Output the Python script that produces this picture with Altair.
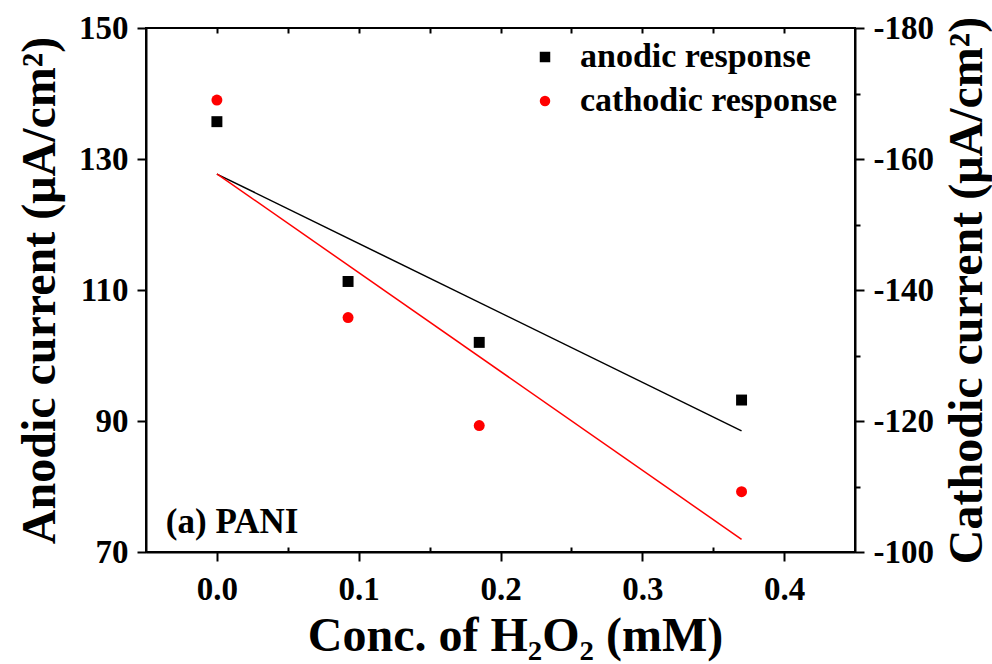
import altair as alt
import pandas as pd

# ---- data ----
conc = [0.0, 0.0925, 0.185, 0.37]
anodic = [135.7, 111.3, 102.0, 93.2]
cathodic = [-169.0, -135.8, -119.3, -109.2]
series = ["anodic response", "cathodic response"]
colors = ["#000000", "#ff0000"]
shapes = ["square", "circle"]

x_ticks = [0.0, 0.1, 0.2, 0.3, 0.4]
x_minor = [0.05, 0.15, 0.25, 0.35]
x_top = [0.0, 0.05, 0.1, 0.15, 0.2, 0.25, 0.3, 0.35, 0.4]
left_ticks = [70, 90, 110, 130, 150]
right_ticks = [-180, -160, -140, -120, -100]
right_minor = [-170, -150, -130, -110]

label_x = [-0.036]
label_y = [72.9]
label_text = ["(a) PANI"]

FONT = "Liberation Serif"

an_df = pd.DataFrame({"conc": conc, "current": anodic, "series": series[0]})
ca_df = pd.DataFrame({"conc": conc, "current": cathodic, "series": series[1]})
lab_df = pd.DataFrame({"conc": label_x, "current": label_y, "text": label_text})

xs = alt.Scale(domain=[-0.05, 0.45], nice=False, zero=False)
ys_left = alt.Scale(domain=[70, 150], nice=False, zero=False)
ys_right = alt.Scale(domain=[-180, -100], nice=False, zero=False, reverse=True)

color = alt.Color("series:N", scale=alt.Scale(domain=series, range=colors),
                  legend=alt.Legend(title=None, orient="none", legendX=382, legendY=12,
                                    symbolSize=110, labelOffset=18, rowPadding=10,
                                    labelFont=FONT, labelFontSize=34, labelFontWeight="bold",
                                    labelColor="black", labelLimit=0, padding=0,
                                    symbolStrokeWidth=0))
shape = alt.Shape("series:N", scale=alt.Scale(domain=series, range=shapes), legend=None)

main_x_axis = alt.Axis(values=x_ticks, format=".1f", title="Conc. of H₂O₂ (mM)",
                       tickSize=9, labelPadding=12, titlePadding=6, titleX=369, grid=False)
top_x_axis = alt.Axis(orient="top", values=x_top, tickSize=5, offset=-5, labels=False,
                      domain=False, title=None, grid=False)
minor_x_axis = alt.Axis(orient="bottom", values=x_minor, tickSize=5, offset=-5, labels=False,
                        domain=False, title=None, grid=False)

left_axis = alt.Axis(orient="left", values=left_ticks, title="Anodic current (μA/cm²)",
                     tickSize=9, labelPadding=9, titlePadding=14, grid=False)
right_axis = alt.Axis(orient="right", values=right_ticks, title="Cathodic current (μA/cm²)",
                      tickSize=9, labelPadding=9, titlePadding=10, titleAngle=270,
                      titleBaseline="top", grid=False,
                      labelExpr="replace(datum.label, '\u2212', '-')")
right_minor_axis = alt.Axis(orient="right", values=right_minor, tickSize=5, labels=False,
                            domain=False, title=None, grid=False)

an_line = alt.Chart(an_df).transform_regression("conc", "current", extent=[0, 0.37]).mark_line(
    color="black", strokeWidth=1.5).encode(
    x=alt.X("conc:Q", scale=xs, axis=top_x_axis),
    y=alt.Y("current:Q", scale=ys_left, axis=None))

ca_line = alt.Chart(ca_df).transform_regression("conc", "current", extent=[0, 0.37]).mark_line(
    color="red", strokeWidth=1.5).encode(
    x=alt.X("conc:Q", scale=xs, axis=minor_x_axis),
    y=alt.Y("current:Q", scale=ys_right, axis=right_minor_axis))

an_pts = alt.Chart(an_df).mark_point(filled=True, size=120, opacity=1).encode(
    x=alt.X("conc:Q", scale=xs, axis=main_x_axis),
    y=alt.Y("current:Q", scale=ys_left, axis=left_axis),
    color=color, shape=shape)

ca_pts = alt.Chart(ca_df).mark_point(filled=True, size=120, opacity=1).encode(
    x=alt.X("conc:Q", scale=xs, axis=None),
    y=alt.Y("current:Q", scale=ys_right, axis=right_axis),
    color=color, shape=shape)

label = alt.Chart(lab_df).mark_text(align="left", baseline="alphabetic", font=FONT,
                                    fontSize=35, fontWeight="bold", color="black").encode(
    x=alt.X("conc:Q", scale=xs, axis=None),
    y=alt.Y("current:Q", scale=ys_left, axis=None),
    text="text:N")

chart = alt.layer(an_line, ca_line, an_pts, ca_pts, label).resolve_scale(
    x="independent", y="independent", color="shared", shape="shared"
).properties(
    width=709, height=524,
    autosize=alt.AutoSizeParams(type="none"),
    padding={"left": 146, "top": 28, "right": 137, "bottom": 112},
    background="white",
).configure_view(stroke="black", strokeWidth=2).configure_axis(
    labelFont=FONT, labelFontSize=33, labelFontWeight="bold", labelColor="black",
    titleFont=FONT, titleFontSize=48, titleFontWeight="bold", titleColor="black",
    domainColor="black", domainWidth=2, tickColor="black", tickWidth=2,
)

chart.save("out.html", embed_options={"renderer": "svg", "actions": False})
